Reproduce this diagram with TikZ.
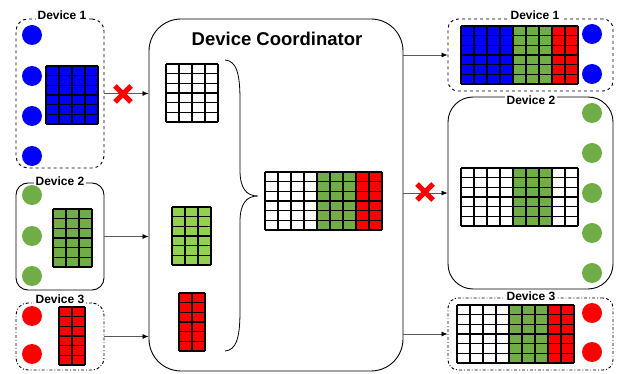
\documentclass[tikz,border=0pt]{standalone}
\usepackage{fontspec}
\setmainfont{Liberation Sans}
\usetikzlibrary{calc,positioning,arrows.meta}
\definecolor{devblue}{HTML}{0000FF}
\definecolor{devgreen}{HTML}{70AD47}
\definecolor{litegreen}{HTML}{92D050}
\definecolor{devred}{HTML}{FF0000}
\tikzset{
  devbox/.style={draw, line width=0.9pt, rectangle, inner sep=0pt},
  devlabel/.style={fill=white, inner sep=2pt, font=\bfseries\fontsize{12}{14}\selectfont},
  cell/.style={draw=black, line width=1.2pt},
  flow/.style={draw=black!65, line width=0.7pt, -{Latex[length=6pt,width=5pt,black]}},
  failx/.style={devred, line width=5pt}
}
\newcommand{\cellgrid}[3]{% top-left corner, number of columns, colours of the columns
  \begin{scope}[shift={#1}]
    \foreach \colr [count=\i from 0] in {#3}
      \fill[\colr] (\i*13,0) rectangle ++(13,58);
    \foreach \j in {0,...,6}
      \draw[cell] (0,\j*9.667) -- (#2*13,\j*9.667);
    \foreach \i in {0,...,#2}
      \draw[cell] (\i*13,0) -- (\i*13,58);
  \end{scope}}
\newcommand{\crossat}[1]{%
  \draw[failx] ($#1+(-8,-8)$) -- ($#1+(8,8)$);
  \draw[failx] ($#1+(-8,8)$) -- ($#1+(8,-8)$);}
\begin{document}
\begin{tikzpicture}[x=1pt,y=-1pt]
			\useasboundingbox (0,0) rectangle (621,374);
			% devices on the left
			\node[devbox, dashed, rounded corners=12pt, minimum width=88pt, minimum height=149pt] (dLone) at (60,93.5) {};
			\node[devbox, rounded corners=12pt, minimum width=88pt, minimum height=107pt] (dLtwo) at (60,236.5) {};
			\node[devbox, dash dot, rounded corners=12pt, minimum width=88pt, minimum height=67pt] (dLthree) at (60,336.5) {};
			\node[devlabel] (tLone) at (62,15) {Device 1};
			\node[devlabel] (tLtwo) at (60,181) {Device 2};
			\node[devlabel] (tLthree) at (60,299) {Device 3};
			\foreach \y in {35,76,116,156} \fill[devblue] (32,\y) circle (10);
			\foreach \y in {195,236,276} \fill[devgreen] (32,\y) circle (10);
			\foreach \y in {316,354} \fill[devred] (32,\y) circle (10);
			\cellgrid{(46,66)}{4}{devblue,devblue,devblue,devblue}
			\cellgrid{(53,209)}{3}{devgreen,devgreen,devgreen}
			\cellgrid{(59,307)}{2}{devred,devred}
			% coordinator
			\node[devbox, rounded corners=32pt, minimum width=254pt, minimum height=352pt] (coord) at (276,195) {};
			\node[font=\bfseries\fontsize{18.5}{21}\selectfont] (title) at (277,39) {Device Coordinator};
			\cellgrid{(166,64)}{4}{white,white,white,white}
			\cellgrid{(172,207)}{3}{litegreen,litegreen,litegreen}
			\cellgrid{(179,293)}{2}{devred,devred}
			\draw[line width=0.8pt] (225,60) .. controls (236,61) and (240,72) .. (240,100)
				-- (240,170) .. controls (240,188) and (246,196) .. (258,196)
				.. controls (246,196) and (240,204) .. (240,222)
				-- (240,311) .. controls (240,339) and (236,350) .. (225,351);
			\cellgrid{(265,172)}{9}{white,white,white,white,devgreen,devgreen,devgreen,devred,devred}
			% devices on the right
			\node[devbox, dashed, rounded corners=10pt, minimum width=165pt, minimum height=72pt] (dRone) at (530.5,55) {};
			\node[devbox, rounded corners=25pt, minimum width=165pt, minimum height=192pt] (dRtwo) at (530.5,193) {};
			\node[devbox, dash dot, rounded corners=10pt, minimum width=165pt, minimum height=72pt] (dRthree) at (530.5,334) {};
			\node[devlabel] (tRone) at (535,15) {Device 1};
			\node[devlabel] (tRtwo) at (531,100) {Device 2};
			\node[devlabel] (tRthree) at (531,296) {Device 3};
			\cellgrid{(461,26)}{9}{devblue,devblue,devblue,devblue,devgreen,devgreen,devgreen,devred,devred}
			\cellgrid{(461,168)}{9}{white,white,white,white,devgreen,devgreen,devgreen,white,white}
			\cellgrid{(457,305)}{9}{white,white,white,white,devgreen,devgreen,devgreen,devred,devred}
			\foreach \y in {34,74} \fill[devblue] (592,\y) circle (10);
			\foreach \y in {113,153,193,233,273} \fill[devgreen] (592,\y) circle (10);
			\foreach \y in {313,352} \fill[devred] (592,\y) circle (10);
			% flows
			\draw[flow] (dLone.east) -- (coord.west |- dLone.east);
			\draw[flow] (dLtwo.east) -- (coord.west |- dLtwo.east);
			\draw[flow] (dLthree.east) -- (coord.west |- dLthree.east);
			\draw[flow] (coord.east |- dRone.west) -- (dRone.west);
			\draw[flow] (coord.east |- dRtwo.west) -- (dRtwo.west);
			\draw[flow] (coord.east |- dRthree.west) -- (dRthree.west);
			\crossat{(123,94)}
			\crossat{(425,192)}
		\end{tikzpicture}
\end{document}
